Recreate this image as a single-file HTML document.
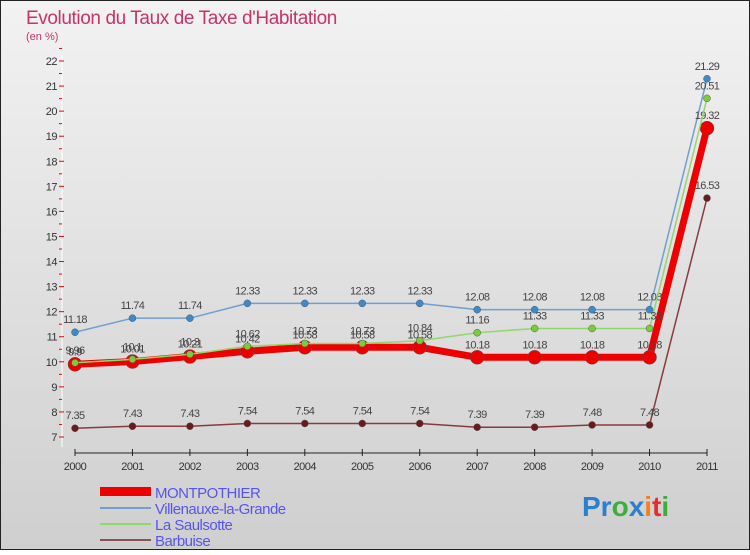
<!DOCTYPE html>
<html><head><meta charset="utf-8"><style>
body{margin:0;width:750px;height:550px;overflow:hidden;font-family:"Liberation Sans",sans-serif}
</style></head><body>
<svg width="750" height="550" xmlns="http://www.w3.org/2000/svg">
<defs><linearGradient id="bg" x1="0" y1="0" x2="0" y2="1"><stop offset="0" stop-color="#f2f2f2"/><stop offset="1" stop-color="#cfcfcf"/></linearGradient></defs>
<rect x="0.5" y="0.5" width="749" height="549" fill="url(#bg)" stroke="#222"/>
<text x="26" y="24" font-size="19" fill="#c8336a" letter-spacing="-0.4">Evolution du Taux de Taxe d'Habitation</text>
<text x="26" y="40" font-size="11" fill="#c8336a">(en %)</text>
<g id="axes"></g><g id="series"></g>
<g font-size="15" fill="#5555ee" letter-spacing="-0.5">
<rect x="100" y="487" width="51" height="9" fill="#e00"/>
<text x="155" y="498">MONTPOTHIER</text>
<rect x="100" y="507" width="51" height="2" fill="#6fa0d0"/>
<text x="155" y="514">Villenauxe-la-Grande</text>
<rect x="100" y="523" width="51" height="2" fill="#8fd86a"/>
<text x="155" y="530">La Saulsotte</text>
<rect x="100" y="539" width="51" height="2" fill="#8a5050"/>
<text x="155" y="546">Barbuise</text>
</g>
<text x="582" y="516" font-size="28" font-weight="bold"><tspan fill="#2a7fd0">Pr</tspan><tspan fill="#3cae3c">o</tspan><tspan fill="#2a7fd0">x</tspan><tspan fill="#f08020">i</tspan><tspan fill="#e03030">t</tspan><tspan fill="#3cae3c">i</tspan></text>
</svg>
<script>
const years=[2000,2001,2002,2003,2004,2005,2006,2007,2008,2009,2010,2011];
const yTicks=[7,8,9,10,11,12,13,14,15,16,17,18,19,20,21,22];
const montpothier=[9.9,10.01,10.21,10.42,10.58,10.58,10.58,10.18,10.18,10.18,10.18,19.32];
const villenauxe=[11.18,11.74,11.74,12.33,12.33,12.33,12.33,12.08,12.08,12.08,12.08,21.29];
const saulsotte=[9.96,10.1,10.3,10.62,10.73,10.73,10.84,11.16,11.33,11.33,11.33,20.51];
const barbuise=[7.35,7.43,7.43,7.54,7.54,7.54,7.54,7.39,7.39,7.48,7.48,16.53];
const NS="http://www.w3.org/2000/svg";
const xS=i=>75+i*(632/11);
const yS=v=>437-(v-7)*(376/15);
function mk(t,a,p){const e=document.createElementNS(NS,t);for(const k in a)e.setAttribute(k,a[k]);p.appendChild(e);return e;}
const ax=document.getElementById('axes');
let l=mk('line',{x1:62,y1:55,x2:62,y2:447,stroke:'#fff','stroke-width':1},ax);


l=mk('line',{x1:75,y1:453,x2:707,y2:453,stroke:'#222','stroke-width':1},ax);


yTicks.forEach(v=>{const t=mk('text',{x:57,y:yS(v)+4,'font-size':11,fill:'#333','text-anchor':'end','letter-spacing':'-0.5'},ax);t.textContent=v;


mk('line',{x1:59,y1:yS(v),x2:64,y2:yS(v),stroke:'#e00'},ax);
mk('line',{x1:59,y1:yS(v+0.5),x2:62,y2:yS(v+0.5),stroke:'#e00'},ax);});
years.forEach((y,i)=>{mk('line',{x1:xS(i),y1:449,x2:xS(i),y2:456,stroke:'#222'},ax);
const t=mk('text',{x:xS(i),y:470,'font-size':11,fill:'#333','text-anchor':'middle','letter-spacing':'-0.5'},ax);t.textContent=y;

});
const sg=document.getElementById('series');
function draw(name,vals,col,w,r,dot){
const g=mk('g',{},sg);


mk('polyline',{points:vals.map((v,i)=>xS(i)+','+yS(v)).join(' '),fill:'none',stroke:col,'stroke-width':w,'stroke-linejoin':'round'},g);
vals.forEach((v,i)=>{const c=mk('circle',{cx:xS(i),cy:yS(v),r:r,fill:dot,stroke:'#555','stroke-width':0.5},g);


const t=mk('text',{x:xS(i),y:yS(v)-9,'font-size':11,fill:'#444','text-anchor':'middle','letter-spacing':'-0.6'},g);t.textContent=v;

});}
draw('barbuise',barbuise,'#8a3a3a',1.5,3.5,'#6a1a1a');
draw('villenauxe',villenauxe,'#6fa0d0',1.5,3.5,'#3a8ad0');
draw('montpothier',montpothier,'#ee0000',7,7,'#ee0000');
draw('saulsotte',saulsotte,'#8fd86a',1.5,3.5,'#7acc3a');
</script>
</body></html>
